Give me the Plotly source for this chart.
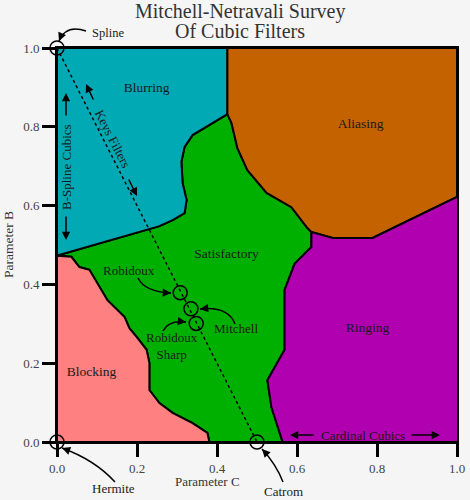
import plotly.graph_objects as go

# ---------------- data ----------------
tick_vals = [0.0, 0.2, 0.4, 0.6, 0.8, 1.0]
tick_text = ["0.0", "0.2", "0.4", "0.6", "0.8", "1.0"]

# Region boundaries in (Parameter C, Parameter B)
blur_green_c = [0.426, 0.339, 0.319, 0.311, 0.314, 0.324, 0.319, 0.289, 0.256, 0.0]
blur_green_b = [0.832, 0.779, 0.749, 0.711, 0.657, 0.614, 0.581, 0.563, 0.548, 0.473]
green_alias_c = [0.426, 0.436, 0.451, 0.476, 0.524, 0.586, 0.626, 0.636]
green_alias_b = [0.832, 0.810, 0.746, 0.690, 0.632, 0.596, 0.543, 0.533]
alias_ring_c = [0.636, 0.689, 0.789, 1.0]
alias_ring_b = [0.533, 0.518, 0.518, 0.622]
green_ring_c = [0.636, 0.636, 0.594, 0.569, 0.569, 0.526, 0.536, 0.564]
green_ring_b = [0.533, 0.495, 0.452, 0.386, 0.234, 0.157, 0.089, 0.0]
block_green_c = [0.0, 0.036, 0.056, 0.081, 0.106, 0.126, 0.169, 0.181, 0.201, 0.224,
                 0.231, 0.231, 0.256, 0.289, 0.339, 0.376, 0.381]
block_green_b = [0.473, 0.470, 0.444, 0.437, 0.393, 0.360, 0.317, 0.289, 0.264, 0.234,
                 0.201, 0.132, 0.099, 0.074, 0.048, 0.023, 0.0]

# Keys family line B + 2C = 1
keys_c = [0.0, 0.5]
keys_b = [1.0, 0.0]

# Named filters
filter_names = ["Spline", "Hermite", "Catrom", "Robidoux", "Mitchell", "Robidoux Sharp"]
filter_c = [0.0, 0.0, 0.5, 0.308, 0.335, 0.348]
filter_b = [1.0, 0.0, 0.0, 0.379, 0.338, 0.301]

# Region labels
region_names = ["Blurring", "Aliasing", "Satisfactory", "Ringing", "Blocking"]
region_label_c = [0.224, 0.759, 0.424, 0.776, 0.086]
region_label_b = [0.898, 0.805, 0.475, 0.287, 0.175]

# ---------------- styles ----------------
COL_BLUR = "#00a9b4"
COL_ALIAS = "#c46200"
COL_GREEN = "#00b000"
COL_RING = "#b000b0"
COL_BLOCK = "#ff8080"
BG = "#f5f5f5"
SERIF = "Liberation Serif, Times New Roman, serif"

# ---------------- polygons built from boundaries ----------------
rev = lambda a: list(reversed(a))

blur_c = [0.0, blur_green_c[0]] + blur_green_c + [0.0]
blur_b = [1.0, 1.0] + blur_green_b + [1.0]

alias_c = [green_alias_c[0], 1.0] + rev(alias_ring_c) + rev(green_alias_c)[1:] + [green_alias_c[0]]
alias_b = [1.0, 1.0] + rev(alias_ring_b) + rev(green_alias_b)[1:] + [1.0]

ring_c = [1.0] + rev(green_ring_c) + alias_ring_c[1:]
ring_b = [0.0] + rev(green_ring_b) + alias_ring_b[1:]

block_c = [0.0] + block_green_c + [0.0]
block_b = [0.0] + block_green_b + [0.0]

green_c = blur_green_c + block_green_c[1:] + rev(green_ring_c) + rev(green_alias_c)[1:]
green_b = blur_green_b + block_green_b[1:] + rev(green_ring_b) + rev(green_alias_b)[1:]

fig = go.Figure()
for xs, ys, col in [(green_c, green_b, COL_GREEN), (blur_c, blur_b, COL_BLUR),
                    (alias_c, alias_b, COL_ALIAS), (ring_c, ring_b, COL_RING),
                    (block_c, block_b, COL_BLOCK)]:
    fig.add_trace(go.Scatter(x=xs, y=ys, mode="lines", fill="toself", fillcolor=col,
                             line=dict(color="black", width=2), hoverinfo="skip",
                             showlegend=False))

fig.add_trace(go.Scatter(x=keys_c, y=keys_b, mode="lines",
                         line=dict(color="black", width=1.5, dash="3px,3px"),
                         showlegend=False, hoverinfo="skip"))

fig.add_trace(go.Scatter(x=region_label_c, y=region_label_b, mode="text", text=region_names,
                         textfont=dict(family=SERIF, size=13.5, color="#1a1a1a"),
                         showlegend=False, hoverinfo="skip"))

fig.add_trace(go.Scatter(x=filter_c, y=filter_b, mode="markers", text=filter_names,
                         marker=dict(symbol="circle-open", size=14, color="black",
                                     line=dict(width=1.5, color="black")),
                         cliponaxis=False, showlegend=False))

# ---------------- annotations ----------------
L, T, W, H = 57, 48, 400, 394


def P(px, py):
    return (px - L) / W, (T + H - py) / H


ann = []


def text(px, py, s, size=13.5, angle=0, color="#1a1a1a"):
    x, y = P(px, py)
    ann.append(dict(x=x, y=y, xref="paper", yref="paper", text=s, showarrow=False,
                    textangle=angle, font=dict(family=SERIF, size=size, color=color),
                    xanchor="center", yanchor="middle"))


def arrow(hx, hy, tx, ty, w=1.5):
    x, y = P(hx, hy)
    ann.append(dict(x=x, y=y, xref="paper", yref="paper", text="", showarrow=True,
                    ax=tx - hx, ay=ty - hy, arrowhead=2, arrowsize=1.1, arrowwidth=w,
                    arrowcolor="black", standoff=0, startstandoff=0))


shapes = []


def curve(tx, ty, cx, cy, hx, hy):
    x0, y0 = P(tx, ty)
    x1, y1 = P(cx, cy)
    x2, y2 = P(hx, hy)
    shapes.append(dict(type="path", xref="paper", yref="paper",
                       path=f"M {x0},{y0} Q {x1},{y1} {x2},{y2}",
                       line=dict(color="black", width=1.5)))
    # arrowhead along the final direction
    dx, dy = cx - hx, cy - hy
    n = (dx * dx + dy * dy) ** 0.5
    arrow(hx, hy, hx + dx / n * 6, hy + dy / n * 6)


# title
text(240, 12, "Mitchell-Netravali Survey", size=20, color="#333333")
text(240, 31, "Of Cubic Filters", size=20, color="#333333")

# filter labels
text(108, 33, "Spline", size=12.5)
text(113, 488, "Hermite", size=13)
text(283, 491, "Catrom", size=13)
text(129, 270, "Robidoux", size=13)
text(236, 328, "Mitchell", size=13)
text(172, 346, "Robidoux<br>Sharp", size=13)

curve(86, 31, 66, 24, 59, 41)
curve(115, 482, 95, 460, 62, 448)
curve(283, 482, 276, 464, 262, 449)
curve(138, 278, 145, 292, 171, 293)
curve(235, 324, 228, 306, 200, 309)
curve(163, 331, 168, 320, 186, 322)

# axis titles
text(207, 481, "Parameter C", size=13, color="#333333")
text(8, 245, "Parameter B", size=13.5, angle=-90, color="#333333")

# families
text(113, 138, "Keys Filters", size=13, angle=63)
arrow(86, 84, 94, 101)
arrow(137, 196, 128, 178)

text(66, 167, "B-Spline Cubics", size=13, angle=-90)
arrow(66, 93, 66, 117)
arrow(66, 240, 66, 215)

text(363, 435, "Cardinal Cubics", size=13)
arrow(290, 435, 315, 435)
arrow(440, 435, 410, 435)

axis_common = dict(range=[0, 1], tickvals=tick_vals, ticktext=tick_text, ticks="outside",
                   ticklen=13, tickwidth=2.5, tickcolor="black", showline=True,
                   linecolor="black", linewidth=2, mirror=True, showgrid=False,
                   zeroline=False, automargin=False,
                   tickfont=dict(family=SERIF, size=13, color="#444444"))

fig.update_layout(
    width=470, height=500,
    margin=dict(l=L, r=470 - L - W, t=T, b=500 - T - H, autoexpand=False),
    paper_bgcolor=BG, plot_bgcolor=BG,
    xaxis=axis_common, yaxis=axis_common,
    annotations=ann, shapes=shapes,
    showlegend=False,
)

fig.write_html("out.html", config={"displayModeBar": False},
               post_script="document.body.style.margin='0';")
